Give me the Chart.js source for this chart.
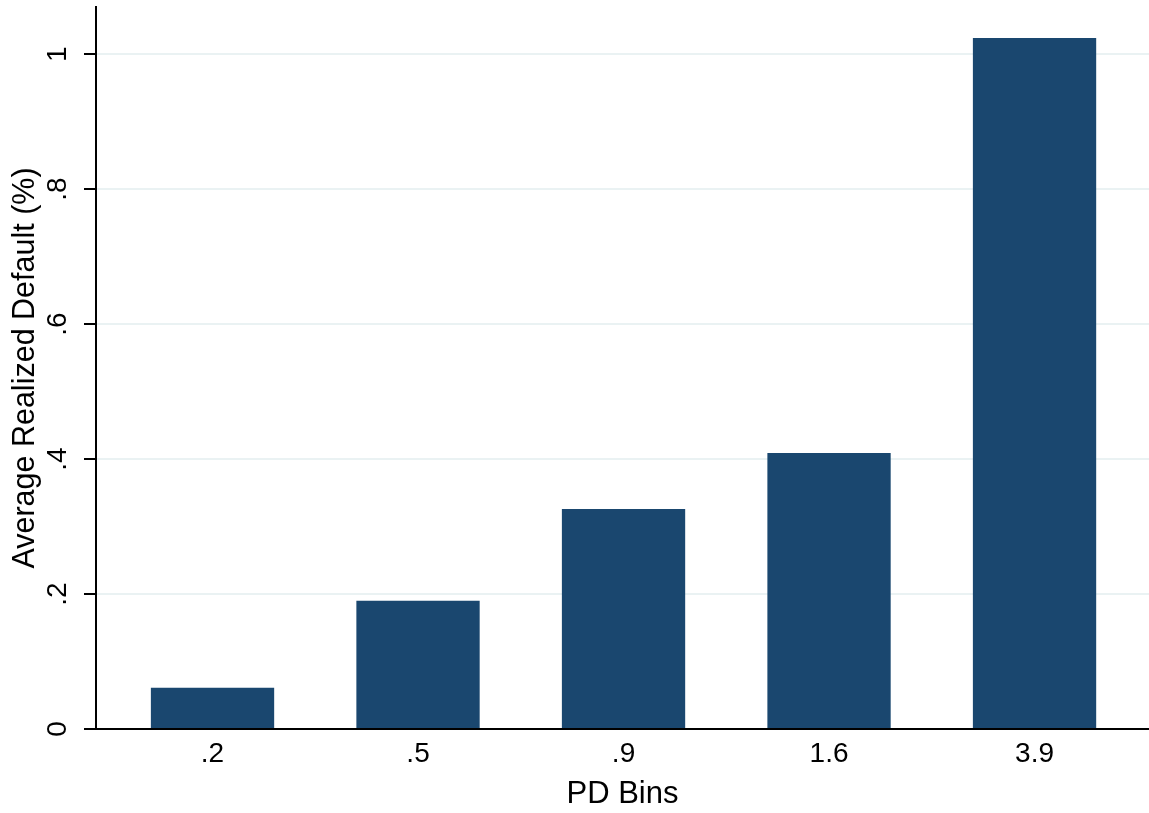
<!DOCTYPE html>
<html>
<head>
<meta charset="utf-8">
<script src="https://cdn.jsdelivr.net/npm/chart.js@4/dist/chart.umd.min.js"></script>
<style>
  html, body { margin: 0; padding: 0; background: #fff; }
  #wrap { width: 1149px; height: 813px; position: relative; }
</style>
</head>
<body>
<div id="wrap"><canvas id="chart"></canvas></div>
<script>
  // PD bin labels and average realized default rates (%)
  const binLabels = [".2", ".5", ".9", "1.6", "3.9"];
  const binPositions = [0, 1, 2, 3, 4];
  const avgDefault = [0.061, 0.19, 0.326, 0.409, 1.024];
  const yTickValues = [0, 0.2, 0.4, 0.6, 0.8, 1];
  const yTickLabels = ["0", ".2", ".4", ".6", ".8", "1"];

  const FONT = "'Liberation Sans', Arial, Helvetica, sans-serif";
  const NAVY = "#1a476f";
  const GRID = "#eaf2f3";

  // y tick labels are rotated 90deg like Stata draws them
  const rotatedYTicks = {
    id: "rotatedYTicks",
    afterDraw(chart) {
      const y = chart.scales.y;
      const ctx = chart.ctx;
      ctx.save();
      ctx.fillStyle = "#000";
      ctx.font = "28px " + FONT;
      ctx.textAlign = "center";
      ctx.textBaseline = "middle";
      yTickValues.forEach((v, i) => {
        const py = y.getPixelForValue(v);
        ctx.save();
        ctx.translate(58, py);
        ctx.rotate(-Math.PI / 2);
        ctx.fillText(yTickLabels[i], 0, 0);
        ctx.restore();
      });
      ctx.restore();
    },
  };

  new Chart(document.getElementById("chart"), {
    type: "bar",
    data: {
      datasets: [
        {
          data: binPositions.map((x, i) => ({ x, y: avgDefault[i] })),
          backgroundColor: NAVY,
          borderWidth: 0,
          barPercentage: 0.6,
          categoryPercentage: 1,
        },
      ],
    },
    options: {
      responsive: true,
      maintainAspectRatio: false,
      animation: false,
      layout: { padding: { top: 7, left: 0, right: 0, bottom: 0 } },
      plugins: { legend: { display: false }, tooltip: { enabled: false } },
      scales: {
        x: {
          type: "linear",
          offset: false,
          min: -0.567,
          max: 4.557,
          afterBuildTicks: (s) => {
            s.ticks = binPositions.map((v) => ({ value: v }));
          },
          afterFit: (s) => {
            s.height = 84;
          },
          ticks: {
            color: "#000",
            font: { family: FONT, size: 28 },
            padding: 8,
            maxRotation: 0,
            callback: (v) => binLabels[v],
          },
          grid: { display: false, drawTicks: false, offset: false },
          border: { display: true, color: "#000", width: 2 },
          title: {
            display: true,
            text: "PD Bins",
            color: "#000",
            font: { family: FONT, size: 31 },
            padding: { top: 0, bottom: 0 },
          },
        },
        y: {
          min: 0,
          max: 1.07,
          afterBuildTicks: (s) => {
            s.ticks = yTickValues.map((v) => ({ value: v }));
          },
          afterFit: (s) => {
            s.width = 96;
          },
          ticks: { display: false },
          grid: {
            color: (c) => (c.tick && c.tick.value === 0 ? "rgba(0,0,0,0)" : GRID),
            lineWidth: 2,
            drawTicks: true,
            tickLength: 12,
            tickColor: "#000",
            tickWidth: 2,
          },
          border: { display: true, color: "#000", width: 2 },
          title: {
            display: true,
            text: "Average Realized Default (%)",
            color: "#000",
            font: { family: FONT, size: 30.5 },
            padding: { top: 7, bottom: 0 },
          },
        },
      },
    },
    plugins: [rotatedYTicks],
  });
</script>
</body>
</html>
